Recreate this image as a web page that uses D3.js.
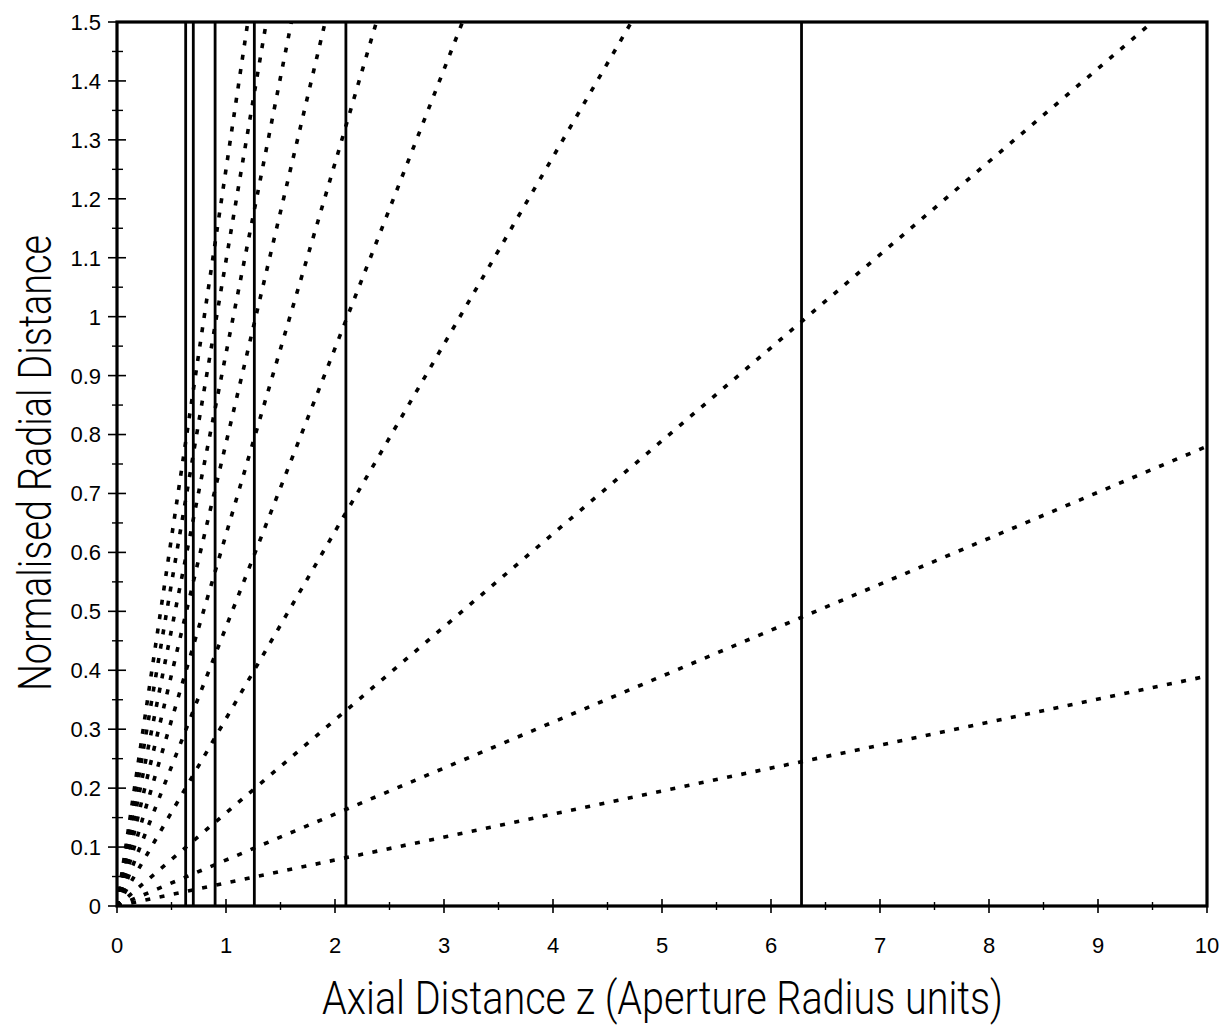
<!DOCTYPE html>
<html>
<head>
<meta charset="utf-8">
<script src="https://cdn.jsdelivr.net/npm/d3@7"></script>
<style>
  html, body { margin: 0; padding: 0; background: #fff; }
  .tick-label { font-family: "Liberation Sans", Arial, sans-serif; font-size: 22px; fill: #000; }
  .title { font-family: Roboto, "Liberation Sans", sans-serif; font-weight: 300; font-size: 46px; fill: #000; }
</style>
</head>
<body>
<div class="chart"></div>
<script>
// positions of the solid vertical lines (axial distance z)
const verticalZ = [0.63, 0.70, 0.90, 1.26, 2.10, 6.28];

// dotted lines start at the origin and end where they leave the frame
const dotEndZ = [10, 10, 9.5, 4.72, 3.17, 2.38, 1.91, 1.60, 1.37, 1.20];
const dotEndR = [0.39, 0.78, 1.5, 1.5, 1.5, 1.5, 1.5, 1.5, 1.5, 1.5];

// tick labels
const xTicks = [0, 1, 2, 3, 4, 5, 6, 7, 8, 9, 10];
const yTicks = [0, 0.1, 0.2, 0.3, 0.4, 0.5, 0.6, 0.7, 0.8, 0.9, 1, 1.1, 1.2, 1.3, 1.4, 1.5];
const xMinor = [0.5, 1.5, 2.5, 3.5, 4.5, 5.5, 6.5, 7.5, 8.5, 9.5];
const yMinor = [0.05, 0.15, 0.25, 0.35, 0.45, 0.55, 0.65, 0.75, 0.85, 0.95, 1.05, 1.15, 1.25, 1.35, 1.45];

document.addEventListener("DOMContentLoaded", function () {
    const width = 1225;
    const height = 1032;
    const left = 117, right = 1207, top = 22, bottom = 906;

    const svg = d3.select(".chart")
        .append("svg")
        .attr("width", width)
        .attr("height", height);

    const x = d3.scaleLinear().domain([0, 10]).range([left, right]);
    const y = d3.scaleLinear().domain([0, 1.5]).range([bottom, top]);

    // clip the dotted lines to the frame
    svg.append("clipPath").attr("id", "plot")
        .append("rect")
        .attr("x", left).attr("y", top - 2)
        .attr("width", right - left).attr("height", bottom - top + 2);

    // dotted lines
    const line = d3.line().x(d => x(d[0])).y(d => y(d[1]));
    svg.append("g")
        .attr("clip-path", "url(#plot)")
        .selectAll("path")
        .data(dotEndZ.map((z, i) => [[0, 0], [z, dotEndR[i]]]))
        .enter()
        .append("path")
        .attr("d", line)
        .attr("fill", "none")
        .attr("stroke", "#000")
        .attr("stroke-width", 3.6)
        .attr("stroke-dasharray", "5 9.5");

    // solid vertical lines
    svg.append("g")
        .selectAll("line")
        .data(verticalZ)
        .enter()
        .append("line")
        .attr("x1", d => x(d)).attr("x2", d => x(d))
        .attr("y1", y(0)).attr("y2", y(1.5))
        .attr("stroke", "#000")
        .attr("stroke-width", 2.8);

    // frame
    svg.append("rect")
        .attr("x", left).attr("y", top)
        .attr("width", right - left).attr("height", bottom - top)
        .attr("fill", "none")
        .attr("stroke", "#000")
        .attr("stroke-width", 3.2);

    // x axis ticks (crossing the axis line)
    const xAxis = svg.append("g");
    xAxis.selectAll(".major")
        .data(xTicks)
        .enter()
        .append("line")
        .attr("x1", d => x(d)).attr("x2", d => x(d))
        .attr("y1", bottom - 7).attr("y2", bottom + 7)
        .attr("stroke", "#000").attr("stroke-width", 1.6);
    xAxis.selectAll(".minor")
        .data(xMinor)
        .enter()
        .append("line")
        .attr("x1", d => x(d)).attr("x2", d => x(d))
        .attr("y1", bottom - 4).attr("y2", bottom + 4)
        .attr("stroke", "#000").attr("stroke-width", 1.4);
    xAxis.selectAll("text")
        .data(xTicks)
        .enter()
        .append("text")
        .attr("class", "tick-label")
        .attr("x", d => x(d))
        .attr("y", bottom + 47)
        .attr("text-anchor", "middle")
        .text(d => d);

    // y axis ticks
    const yAxis = svg.append("g");
    yAxis.selectAll(".major")
        .data(yTicks)
        .enter()
        .append("line")
        .attr("x1", left - 9).attr("x2", left + 9)
        .attr("y1", d => y(d)).attr("y2", d => y(d))
        .attr("stroke", "#000").attr("stroke-width", 1.6);
    yAxis.selectAll(".minor")
        .data(yMinor)
        .enter()
        .append("line")
        .attr("x1", left - 5).attr("x2", left + 6)
        .attr("y1", d => y(d)).attr("y2", d => y(d))
        .attr("stroke", "#000").attr("stroke-width", 1.4);
    yAxis.selectAll("text")
        .data(yTicks)
        .enter()
        .append("text")
        .attr("class", "tick-label")
        .attr("x", left - 16)
        .attr("y", d => y(d))
        .attr("dy", "0.36em")
        .attr("text-anchor", "end")
        .text(d => d);

    // axis titles
    svg.append("text")
        .attr("class", "title")
        .attr("x", 322)
        .attr("y", 1014)
        .attr("textLength", 681)
        .attr("lengthAdjust", "spacingAndGlyphs")
        .text("Axial Distance z (Aperture Radius units)");

    svg.append("text")
        .attr("class", "title")
        .attr("transform", "translate(51, 691) rotate(-90)")
        .attr("textLength", 456)
        .attr("lengthAdjust", "spacingAndGlyphs")
        .text("Normalised Radial Distance");
});
</script>
</body>
</html>
